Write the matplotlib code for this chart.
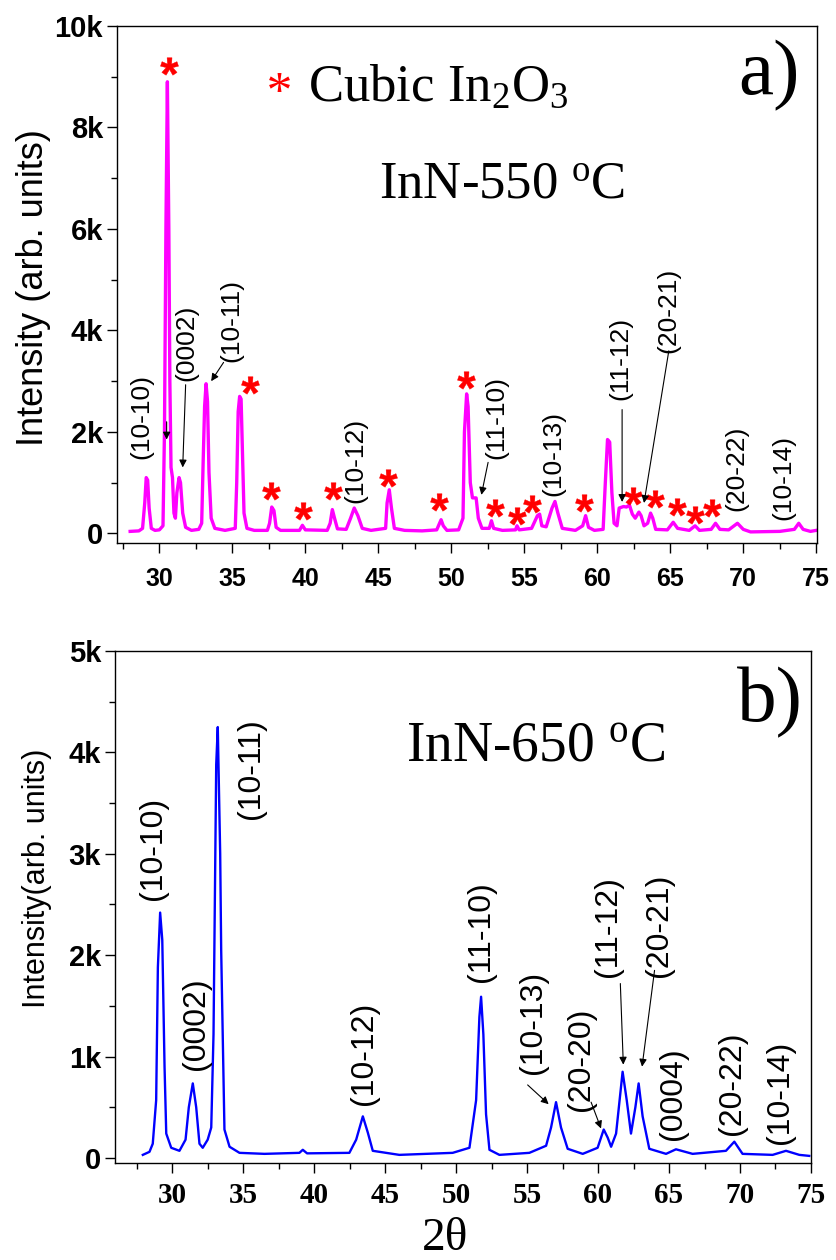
import numpy as np
import matplotlib
matplotlib.use('Agg')
import matplotlib.pyplot as plt
from matplotlib.ticker import MultipleLocator, FuncFormatter

plt.rcParams['font.family'] = ['Liberation Sans', 'DejaVu Sans']
plt.rcParams['mathtext.fontset'] = 'custom'
plt.rcParams['mathtext.rm'] = 'Liberation Serif'
plt.rcParams['mathtext.it'] = 'Liberation Serif:italic'
plt.rcParams['mathtext.bf'] = 'Liberation Serif:bold'
plt.rcParams['mathtext.sf'] = 'Liberation Sans:bold'

# ---------------- panel a) InN-550 C (read off the picture) ----------------
a_two_theta = [28.0, 28.6, 28.85, 29.0, 29.1, 29.2, 29.3, 29.45, 29.7, 30.0,
               30.25, 30.35, 30.45, 30.55, 30.65, 30.72, 30.8, 30.9, 31.0, 31.1,
               31.2, 31.35, 31.45, 31.6, 31.8, 32.2, 32.7, 32.9, 33.0, 33.1,
               33.2, 33.3, 33.4, 33.55, 33.8, 34.5, 35.2, 35.3, 35.4, 35.5,
               35.6, 35.7, 35.8, 36.0, 36.5, 37.4, 37.55, 37.7, 37.85, 38.0,
               38.3, 39.6, 39.8, 40.0, 41.5, 41.7, 41.85, 42.0, 42.2, 42.8,
               43.1, 43.35, 43.6, 43.9, 44.5, 45.5, 45.6, 45.75, 45.9, 46.1,
               46.8, 48.0, 49.0, 49.2, 49.3, 49.45, 49.7, 50.5, 50.8, 50.9,
               51.05, 51.15, 51.3, 51.45, 51.7, 51.85, 52.1, 52.6, 52.75, 52.9,
               53.5, 54.4, 54.5, 54.65, 55.5, 55.9, 56.05, 56.2, 56.5, 56.9,
               57.1, 57.3, 57.6, 58.5, 59.0, 59.2, 59.4, 59.8, 60.4, 60.55,
               60.7, 60.85, 61.0, 61.15, 61.35, 61.5, 61.8, 62.0, 62.2, 62.4,
               62.6, 62.85, 63.0, 63.2, 63.45, 63.65, 63.8, 64.0, 64.8, 65.2,
               65.5, 66.3, 66.7, 67.0, 67.8, 68.1, 68.4, 69.0, 69.6, 70.0,
               70.5, 72.5, 73.5, 73.8, 74.1, 74.6, 75.0]
a_intensity = [40, 50, 100, 600, 1100, 1050, 500, 100, 60, 70,
               150, 2000, 6000, 8900, 6000, 3000, 1300, 1100, 400, 300,
               800, 1100, 1000, 400, 120, 60, 80, 200, 1400, 2500,
               2950, 2600, 1200, 300, 100, 60, 100, 1000, 2400, 2700,
               2650, 1500, 400, 100, 60, 60, 200, 520, 450, 120,
               60, 60, 160, 70, 60, 200, 470, 300, 90, 80,
               300, 500, 350, 100, 60, 100, 600, 860, 500, 100,
               60, 50, 70, 200, 270, 150, 60, 70, 300, 2000,
               2750, 2500, 1000, 700, 700, 300, 100, 100, 250, 100,
               60, 70, 150, 70, 100, 350, 380, 150, 130, 500,
               630, 400, 100, 60, 150, 350, 120, 60, 80, 1000,
               1850, 1800, 800, 200, 150, 500, 530, 520, 560, 380,
               300, 420, 350, 150, 200, 400, 300, 80, 70, 220,
               100, 60, 150, 60, 80, 200, 80, 70, 200, 80,
               30, 40, 80, 200, 80, 40, 60]

a_labels = ['(10-10)', '(0002)', '(10-11)', '(10-12)', '(11-10)', '(10-13)',
            '(11-12)', '(20-21)', '(20-22)', '(10-14)']
a_label_x = [28.75, 31.82, 34.9, 43.4, 53.09, 56.98, 61.6, 64.88, 69.5, 72.78]
a_label_y = [1470, 3000, 3370, 600, 1470, 730, 2630, 3550, 440, 270]

a_arrow_from = [(30.5, 2200), (31.8, 2930), (34.4, 3370), (52.52, 1400), (61.7, 2440), (64.9, 3600)]
a_arrow_to = [(30.5, 1850), (31.6, 1300), (33.55, 3000), (52.06, 760), (61.7, 620), (63.2, 600)]

a_star_x = [30.68, 36.18, 37.66, 39.86, 41.91, 45.64, 49.18, 51.02, 52.98, 54.51,
            55.56, 59.08, 62.43, 63.97, 65.45, 66.71, 67.86]
a_star_y = [9220, 2930, 830, 440, 830, 1100, 620, 3020, 510, 340,
            570, 600, 730, 680, 530, 370, 500]

# ---------------- panel b) InN-650 C ----------------
b_two_theta = [27.93, 28.4, 28.63, 28.87, 28.99, 29.15, 29.3, 29.46, 29.58, 29.93,
               30.51, 30.94, 31.17, 31.45, 31.69, 31.92, 32.15, 32.5, 32.75, 32.91,
               33.1, 33.21, 33.38, 33.45, 33.68, 34.04, 34.74, 36.5, 38.96, 39.2,
               39.5, 42.48, 42.96, 43.43, 43.78, 44.13, 46.0, 49.76, 50.94, 51.41,
               51.64, 51.76, 51.92, 52.11, 52.35, 53.05, 55.16, 56.34, 56.69, 57.04,
               57.39, 57.86, 58.92, 59.97, 60.4, 60.68, 60.92, 61.27, 61.73, 62.02,
               62.32, 62.63, 62.86, 63.14, 63.61, 64.79, 65.49, 66.66, 69.01, 69.6,
               70.18, 72.3, 73.24, 74.18, 74.88]
b_intensity = [30, 60, 140, 570, 1880, 2420, 2150, 900, 240, 100,
               70, 180, 500, 735, 500, 140, 100, 180, 300, 1220,
               3880, 4250, 3000, 2050, 280, 110, 50, 40, 50, 80,
               45, 50, 180, 410, 250, 70, 30, 50, 100, 570,
               1390, 1590, 1220, 430, 80, 30, 50, 120, 300, 550,
               300, 90, 40, 100, 280, 200, 110, 240, 850, 570,
               240, 500, 735, 410, 90, 40, 85, 40, 70, 160,
               40, 30, 70, 30, 20]

b_labels = ['(10-10)', '(0002)', '(10-11)', '(10-12)', '(11-10)', '(10-13)',
            '(20-20)', '(11-12)', '(20-21)', '(0004)', '(20-22)', '(10-14)']
b_label_x = [28.63, 31.69, 35.56, 43.54, 51.76, 55.4, 58.8, 60.68, 64.32, 65.25, 69.44, 72.82]
b_label_y = [2540, 870, 3340, 520, 1740, 830, 460, 1780, 1780, 180, 230, 140]

b_arrow_from = [(55.04, 720), (59.51, 550), (61.57, 1720), (63.98, 1850)]
b_arrow_to = [(56.52, 530), (60.21, 290), (61.78, 920), (63.1, 900)]


def k_format(v, pos):
    if abs(v) < 1e-9:
        return '0'
    return '{0:g}k'.format(v / 1000)


def style_axes(ax, xfont, xsize, xpad):
    ax.tick_params(which='both', direction='out', top=False, right=False, width=1.0)
    ax.tick_params(which='major', length=7)
    ax.tick_params(which='minor', length=4)
    ax.tick_params(axis='x', pad=xpad)
    ax.tick_params(axis='y', pad=3)
    ax.xaxis.set_major_locator(MultipleLocator(5))
    ax.xaxis.set_minor_locator(MultipleLocator(2.5))
    ax.yaxis.set_major_formatter(FuncFormatter(k_format))
    for lab in ax.get_xticklabels():
        lab.set_fontfamily(xfont)
        lab.set_fontweight('bold')
        lab.set_fontsize(xsize)
    for lab in ax.get_yticklabels():
        lab.set_fontfamily('Liberation Sans')
        lab.set_fontweight('bold')
        lab.set_fontsize(21)
    for sp in ax.spines.values():
        sp.set_linewidth(1.0)


fig = plt.figure(figsize=(8.37, 12.6), dpi=100)

# ************* panel a *************
ax1 = fig.add_axes([0.1398, 0.569, 0.8363, 0.4104])
ax1.plot(a_two_theta, a_intensity, '-', color='#ff00ff', lw=2.4)
ax1.set_xlim(27.1, 75.05)
ax1.set_ylim(-190, 10000)
ax1.yaxis.set_major_locator(MultipleLocator(2000))
ax1.yaxis.set_minor_locator(MultipleLocator(1000))
style_axes(ax1, 'Liberation Sans', 18, 10)

ax1.plot(a_star_x, a_star_y, ls='none', marker=r'$\mathsf{*}$', color='red', ms=13, mew=0.3)
for lab, x, y in zip(a_labels, a_label_x, a_label_y):
    ax1.text(x, y, lab, rotation=90, ha='center', va='bottom', fontsize=19)
for p0, p1 in zip(a_arrow_from, a_arrow_to):
    ax1.annotate('', xy=p1, xytext=p0,
                 arrowprops=dict(arrowstyle='-|>', color='black', lw=0.8,
                                 mutation_scale=11, shrinkA=0, shrinkB=0))

ax1.plot([38.18], [8890], ls='none', marker=r'$*$', color='red', ms=15, mew=0)
ax1.text(40.2, 8520, r'Cubic In$_{\rm 2}$O$_{\rm 3}$', family='Liberation Serif', fontsize=38,
         ha='left', va='baseline')
ax1.text(45.03, 6610, r'InN-550 $^{\rm o}$C', family='Liberation Serif', fontsize=38,
         ha='left', va='baseline')
ax1.text(69.64, 8660, 'a)', family='Liberation Serif', fontsize=57, ha='left', va='baseline')

# ************* panel b *************
ax2 = fig.add_axes([0.1374, 0.077, 0.8315, 0.4063])
ax2.plot(b_two_theta, b_intensity, '-', color='#0000ff', lw=1.7)
ax2.set_xlim(25.97, 75)
ax2.set_ylim(-50, 5000)
ax2.yaxis.set_major_locator(MultipleLocator(1000))
ax2.yaxis.set_minor_locator(MultipleLocator(500))
style_axes(ax2, 'Liberation Serif', 21, 7)

for lab, x, y in zip(b_labels, b_label_x, b_label_y):
    ax2.text(x, y, lab, rotation=90, ha='center', va='bottom', fontsize=23)
for p0, p1 in zip(b_arrow_from, b_arrow_to):
    ax2.annotate('', xy=p1, xytext=p0,
                 arrowprops=dict(arrowstyle='-|>', color='black', lw=0.8,
                                 mutation_scale=11, shrinkA=0, shrinkB=0))

ax2.text(46.48, 3920, r'InN-650 $^{\rm o}$C', family='Liberation Serif', fontsize=40,
         ha='left', va='baseline')
ax2.text(69.79, 4310, 'b)', family='Liberation Serif', fontsize=57, ha='left', va='baseline')

# axis titles
fig.text(34 / 837, 1 - 288 / 1260, 'Intensity (arb. units)', rotation=90,
         ha='center', va='center', fontsize=26)
fig.text(37 / 837, 1 - 878 / 1260, 'Intensity(arb. units)', rotation=90,
         ha='center', va='center', fontsize=22)
fig.text(445 / 837, 0.0, '2\u03b8', family='Liberation Serif', fontsize=34,
         ha='center', va='bottom')

fig.savefig('out.png', dpi=100)
plt.close('all')
